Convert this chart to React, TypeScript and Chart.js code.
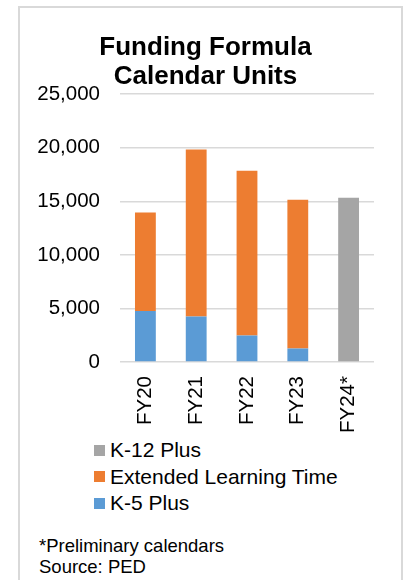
import React, { useEffect, useRef } from "react";
import { Chart, registerables } from "chart.js";

Chart.register(...registerables);

const categories = ["FY20", "FY21", "FY22", "FY23", "FY24*"];
const k5Plus = [4760, 4250, 2480, 1270, null];
const extendedLearning = [9200, 15580, 15365, 13870, null];
const k12Plus = [null, null, null, null, 15330];
const yTicks = [0, 5000, 10000, 15000, 20000, 25000];
const titleLines = ["Funding Formula", "Calendar Units"];
const footnotes = ["*Preliminary calendars", "Source: PED"];

const FONT = "'Liberation Sans', Arial, Helvetica, sans-serif";

const seriesDefs = [
  { label: "K-5 Plus", data: k5Plus, color: "#5b9bd5" },
  { label: "Extended Learning Time", data: extendedLearning, color: "#ed7d31" },
  { label: "K-12 Plus", data: k12Plus, color: "#a5a5a5" },
];

export default function App() {
  const canvasRef = useRef<HTMLCanvasElement | null>(null);

  useEffect(() => {
    if (!canvasRef.current) return;
    const chart = new Chart(canvasRef.current, {
      type: "bar",
      data: {
        labels: categories,
        datasets: seriesDefs.map((s) => ({
          label: s.label,
          data: s.data as any,
          backgroundColor: s.color,
          borderWidth: 0,
          barPercentage: 0.41,
          categoryPercentage: 1,
        })),
      },
      options: {
        animation: false,
        responsive: false,
        maintainAspectRatio: false,
        layout: { padding: { left: 18, right: 28, top: 10, bottom: 0 } },
        plugins: {
          legend: { display: false },
          tooltip: { enabled: false },
          title: {
            display: true,
            text: titleLines,
            color: "#000",
            font: { family: FONT, size: 26, weight: "bold", lineHeight: 1.12 },
            padding: { top: 16, bottom: 3 },
          },
        },
        scales: {
          x: {
            stacked: true,
            grid: { display: false, drawTicks: false },
            border: { display: false },
            ticks: {
              color: "#000",
              font: { family: FONT, size: 20.5 },
              minRotation: 90,
              maxRotation: 90,
              padding: 14,
              autoSkip: false,
            },
            afterFit: (s: any) => {
              s.height = 72;
            },
          },
          y: {
            stacked: true,
            min: yTicks[0],
            max: yTicks[yTicks.length - 1],
            afterBuildTicks: (s: any) => {
              s.ticks = yTicks.map((v) => ({ value: v }));
            },
            grid: { color: "#d9d9d9", lineWidth: 1.5, drawTicks: false },
            border: { display: false },
            ticks: {
              color: "#000",
              font: { family: FONT, size: 20.5 },
              padding: 20,
              callback: (v: any) => Number(v).toLocaleString("en-US"),
            },
            afterFit: (s: any) => {
              s.width = 83;
            },
          },
        },
      },
    });
    return () => chart.destroy();
  }, []);

  const legendItems = [...seriesDefs].reverse();

  return (
    <div
      style={{
        position: "absolute",
        left: 0,
        top: 0,
        width: 404,
        height: 580,
        overflow: "hidden",
        background: "#fff",
        fontFamily: FONT,
      }}
    >
      <div
        style={{
          position: "absolute",
          left: 18,
          top: 6,
          width: 385,
          height: 600,
          border: "2px solid #d9d9d9",
          boxSizing: "border-box",
        }}
      />
      <canvas
        ref={canvasRef}
        width={383}
        height={427}
        style={{ position: "absolute", left: 19, top: 7, width: 383, height: 427 }}
      />
      <div style={{ position: "absolute", left: 94, top: 437 }}>
        {legendItems.map((s) => (
          <div
            key={s.label}
            style={{
              display: "flex",
              alignItems: "center",
              height: 26.5,
              fontSize: 21,
              lineHeight: "26.5px",
              color: "#000",
              whiteSpace: "nowrap",
            }}
          >
            <span
              style={{
                display: "inline-block",
                width: 11,
                height: 11,
                background: s.color,
                marginRight: 5,
              }}
            />
            <span>{s.label}</span>
          </div>
        ))}
      </div>
      <div
        style={{
          position: "absolute",
          left: 39,
          top: 535,
          fontSize: 18.5,
          lineHeight: "21px",
          color: "#000",
        }}
      >
        {footnotes.map((f) => (
          <div key={f}>{f}</div>
        ))}
      </div>
    </div>
  );
}
